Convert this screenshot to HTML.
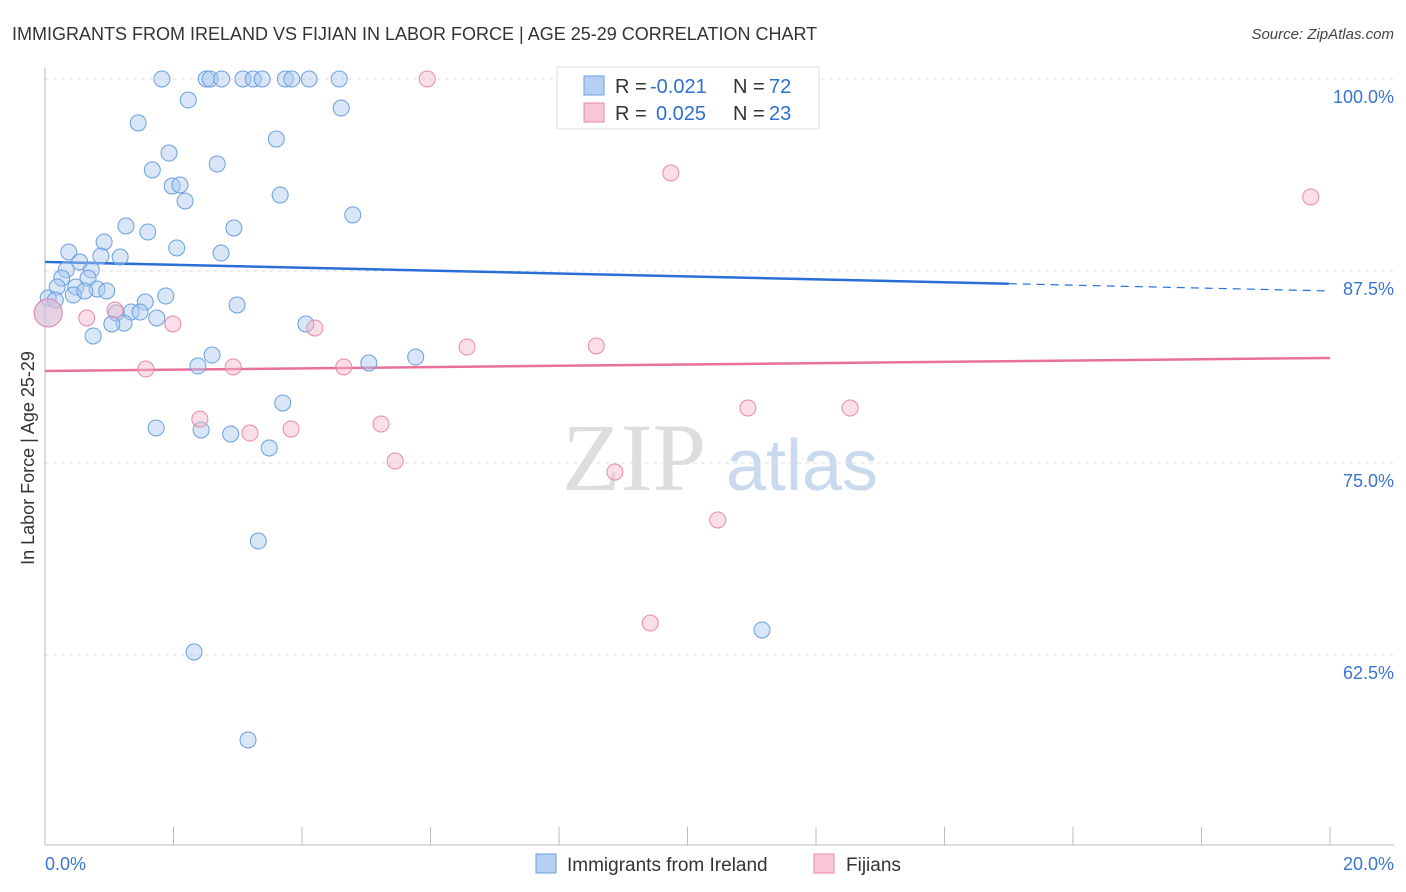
<!DOCTYPE html>
<html><head><meta charset="utf-8">
<style>
body{margin:0;background:#fff;font-family:"Liberation Sans",sans-serif;}
svg{display:block}
</style></head>
<body>
<svg id="chart" width="1406" height="892" xmlns="http://www.w3.org/2000/svg" font-family="Liberation Sans, sans-serif">
<text x="12" y="40" font-size="18" fill="#333">IMMIGRANTS FROM IRELAND VS FIJIAN IN LABOR FORCE | AGE 25-29 CORRELATION CHART</text>
<text x="1394" y="39" font-size="15" fill="#444" text-anchor="end" font-style="italic">Source: ZipAtlas.com</text>
<text transform="translate(34,458) rotate(-90)" font-size="18" fill="#333" text-anchor="middle">In Labor Force | Age 25-29</text>
<g>
<text x="634" y="490" font-size="96" fill="#ddd" text-anchor="middle" font-family="Liberation Serif, serif">ZIP</text>
<text x="802" y="490" font-size="72" fill="#c9d9ee" text-anchor="middle">atlas</text>
</g>
<g id="grid"></g>
<g id="axes"></g>
<g id="lines"></g>
<g id="points"></g>
<g>
<rect x="557" y="67" width="262" height="62" fill="#fff" stroke="#ddd"/>
<rect x="584" y="76" width="20" height="19" fill="#b5d0f3" stroke="#6a9fe0"/>
<text x="615" y="93" font-size="20" fill="#333">R =</text>
<text x="650" y="93" font-size="20" fill="#2f6fd0">-0.021</text>
<text x="733" y="93" font-size="20" fill="#333">N =</text>
<text x="769" y="93" font-size="20" fill="#2f6fd0">72</text>
<rect x="584" y="103" width="20" height="19" fill="#f8c6d6" stroke="#e889a8"/>
<text x="615" y="120" font-size="20" fill="#333">R =</text>
<text x="656" y="120" font-size="20" fill="#2f6fd0">0.025</text>
<text x="733" y="120" font-size="20" fill="#333">N =</text>
<text x="769" y="120" font-size="20" fill="#2f6fd0">23</text>
</g>
<g>
<rect x="536" y="854" width="20" height="19" fill="#b5d0f3" stroke="#6a9fe0"/>
<text x="567" y="871" font-size="19" fill="#333">Immigrants from Ireland</text>
<rect x="814" y="854" width="20" height="19" fill="#f8c6d6" stroke="#e889a8"/>
<text x="846" y="871" font-size="19" fill="#333">Fijians</text>
</g>
</svg>
<script>
const blueX=[1.82,2.51,2.57,2.75,3.08,3.24,3.38,3.74,3.84,4.11,4.58,2.23,4.61,1.45,3.60,1.93,2.68,1.67,1.98,2.10,2.18,3.66,4.79,1.26,1.60,2.94,2.05,0.92,0.37,0.87,1.17,2.74,0.54,0.33,0.72,0.26,0.67,0.19,0.48,0.81,0.96,0.05,0.16,0.44,0.62,1.88,2.99,1.56,1.34,1.48,1.11,1.74,1.23,1.04,4.06,0.75,2.60,2.38,5.04,5.77,3.70,1.73,2.43,2.89,3.49,3.32,11.16,2.32,3.16,0.05];
const blueY=[100,100,100,100,100,100,100,100,100,100,100,98.63,98.11,97.14,96.09,95.18,94.47,94.08,93.03,93.10,92.06,92.45,91.15,90.43,90.04,90.30,89.00,89.39,88.74,88.48,88.41,88.67,88.09,87.57,87.57,87.04,87.04,86.46,86.46,86.33,86.20,85.74,85.61,85.94,86.20,85.87,85.29,85.48,84.83,84.83,84.77,84.44,84.11,84.05,84.05,83.27,82.03,81.32,81.51,81.90,78.91,77.28,77.15,76.89,75.98,69.92,64.13,62.70,56.97,84.77];
const pinkX=[5.95,9.74,19.70,1.09,0.65,1.99,4.20,0.05,6.57,8.58,1.57,2.93,4.65,10.94,12.53,2.41,5.23,3.83,3.19,5.45,8.87,10.47,9.42];
const pinkY=[100,93.88,92.32,84.96,84.44,84.05,83.79,84.77,82.55,82.62,81.12,81.25,81.25,78.58,78.58,77.86,77.54,77.21,76.95,75.13,74.41,71.29,64.58];
const blueTrend=[88.09,86.20];
const pinkTrend=[80.99,81.84];
const yTicks=[100,87.5,75,62.5];
const yTickLabels=["100.0%","87.5%","75.0%","62.5%"];
const xTickLabels=["0.0%","20.0%"];
const NS="http://www.w3.org/2000/svg";
const xs=v=>45+v*64.25;
const ys=v=>79+(100-v)*15.36;
function mk(tag,attrs,parent){const e=document.createElementNS(NS,tag);for(const k in attrs)e.setAttribute(k,attrs[k]);parent.appendChild(e);return e;}
const grid=document.getElementById('grid'),axes=document.getElementById('axes'),lines=document.getElementById('lines'),pts=document.getElementById('points');
yTicks.forEach((t,i)=>{
 const l=mk('line',{x1:45,x2:1394,y1:ys(t),y2:ys(t),stroke:'#ddd','stroke-dasharray':'4,4'},grid);
 
 
 const tx=mk('text',{x:1394,y:ys(t)+24,'font-size':18,fill:'#3a75d0','text-anchor':'end'},grid);
 tx.textContent=yTickLabels[i];
 
 
});
const ya=mk('line',{x1:45,x2:45,y1:68,y2:845,stroke:'#bbb'},axes);


const xa=mk('line',{x1:45,x2:1394,y1:845,y2:845,stroke:'#bbb'},axes);


for(let i=0;i<=10;i++){
 const t=mk('line',{x1:xs(i*2),x2:xs(i*2),y1:827,y2:845,stroke:'#bbb'},axes);
 
 
}
const xl0=mk('text',{x:45,y:870,'font-size':18,fill:'#3a75d0'},axes);xl0.textContent=xTickLabels[0];


const xl1=mk('text',{x:1394,y:870,'font-size':18,fill:'#3a75d0','text-anchor':'end'},axes);xl1.textContent=xTickLabels[1];


function drawPts(X,Y,fill,stroke,name){
 X.forEach((x,i)=>{
  const big=(x<0.1&&Math.abs(Y[i]-84.77)<0.01);
  const c=mk('circle',{cx:xs(x),cy:ys(Y[i]),r:big?14:8,fill:fill,'fill-opacity':0.45,stroke:stroke,'stroke-width':1},pts);
  
  
 });
}
drawPts(blueX,blueY,'#a8c8f0','#6a9fe0','ireland-point');
drawPts(pinkX,pinkY,'#f5b8cc','#e889a8','fijian-point');
const bAt=x=>blueTrend[0]+(blueTrend[1]-blueTrend[0])*x/20;
const b1=mk('line',{x1:xs(0),y1:ys(bAt(0)),x2:xs(15),y2:ys(bAt(15)),stroke:'#2a6fd8','stroke-width':2.5},lines);


const b2=mk('line',{x1:xs(15),y1:ys(bAt(15)),x2:xs(20),y2:ys(bAt(20)),stroke:'#2a6fd8','stroke-width':1.2,'stroke-dasharray':'8,6'},lines);


const p1=mk('line',{x1:xs(0),y1:ys(pinkTrend[0]),x2:xs(20),y2:ys(pinkTrend[1]),stroke:'#e8709a','stroke-width':2.5},lines);


</script>
</body></html>
